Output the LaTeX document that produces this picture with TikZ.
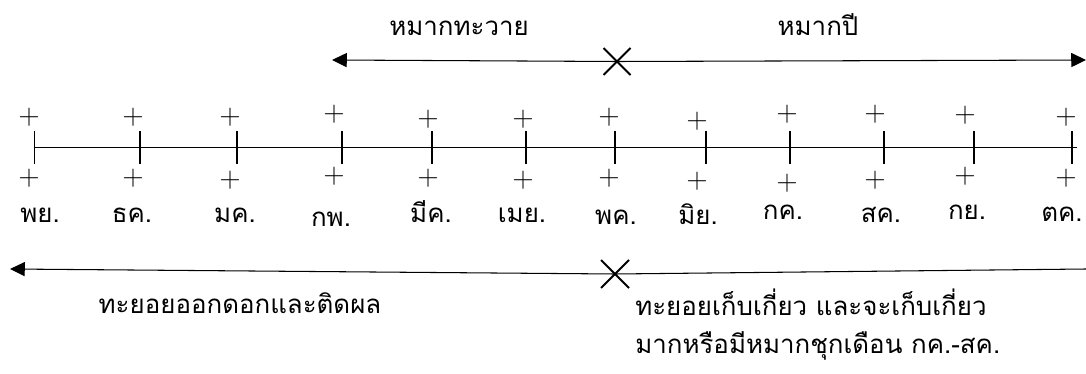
\documentclass[tikz,border=0pt]{standalone}
\usepackage{fontspec}
\newfontfamily\thaifont[Script=Thai]{Loma}
\usetikzlibrary{arrows.meta,positioning,calc}
\tikzset{
  axisln/.style={line width=0.75pt},
  tickln/.style={line width=0.9pt},
  spanln/.style={line width=0.75pt},
  crossln/.style={line width=1.4pt},
  tipln/.style={-{Triangle[length=10.5pt,width=10pt]}},
  thai/.style={font=\thaifont\fontsize{18.4}{22}\selectfont, inner sep=0pt, anchor=base},
  plusmk/.style={font=\fontsize{22}{26}\selectfont, inner sep=0pt},
}

\begin{document}
\begin{tikzpicture}[x=0.025cm, y=-0.025cm]
    \useasboundingbox (0,0) rectangle (1086,374);
    % months along the axis: tick x / plus x / top plus y / bottom plus y / label x / label baseline / label
    \foreach \tx/\px/\pa/\pb/\lx/\ly/\m [count=\i] in {
        34.6/29/117/178/40/222/พย.,
        140/133/117/178/132/222/ธค.,
        237/230/117/180/235/222/มค.,
        342/334/114/176/331/226/กพ.,
        432/428/119/178/431/222/มีค.,
        526/523/119/180/522/222/เมย.,
        615/609/117/178/616/224/พค.,
        706/697/121/181/698/224/มิย.,
        790/787/114/183/783/219/กค.,
        884/875/114/180/881/222/สค.,
        974/965/115/176/967/219/กย.,
        1072/1066/117/178/1062/221/ตค.}{
      \coordinate (tick\i) at (\tx,147.5);
      \draw[tickln] (\tx,131.5) -- (\tx,163.5);
      \node[plusmk] (up\i) at (\px,\pa) {$+$};
      \node[plusmk] (dn\i) at (\px,\pb) {$+$};
      \node[thai] (mon\i) at (\lx,\ly) {\m};
    }
    % the time axis
    \coordinate (axend) at (1077,147.5);
    \draw[axisln] (tick1) -- (axend);

    % upper span: fruit seasons split at May
    \coordinate (offL) at (332,60);
    \coordinate (yearR) at (1086,60);
    \coordinate (splitT) at (617,61.5);
    \draw[spanln, tipln] (splitT) -- (offL);
    \draw[spanln, tipln] (splitT) -- (yearR);
    \draw[crossln] ($(splitT)+(-13.5,-13.5)$) -- ($(splitT)+(13.5,13.5)$)
                   ($(splitT)+(-13.5,13.5)$) -- ($(splitT)+(13.5,-13.5)$);
    \node[thai] (offseason) at (459,36) {หมากทะวาย};
    \node[thai] (inseason) at (818,36) {หมากปี};

    % lower span: flowering and harvest
    \coordinate (flowL) at (10,269);
    \coordinate (harvR) at (1086,269);
    \coordinate (splitB) at (615,274);
    \draw[spanln, tipln] (splitB) -- (flowL);
    \draw[spanln] (splitB) -- (harvR);
    \draw[crossln] ($(splitB)+(-14,-14)$) -- ($(splitB)+(14,14)$)
                   ($(splitB)+(-14,14)$) -- ($(splitB)+(14,-14)$);
    \node[thai] (flower) at (240,313) {ทะยอยออกดอกและติดผล};
    \node[thai, anchor=base west] (harvest) at (635,315) {ทะยอยเก็บเกี่ยว และจะเก็บเกี่ยว};
    \node[thai, anchor=base west] (harvest2) at (635,353) {มากหรือมีหมากชุกเดือน กค.-สค.};
\end{tikzpicture}
\end{document}
